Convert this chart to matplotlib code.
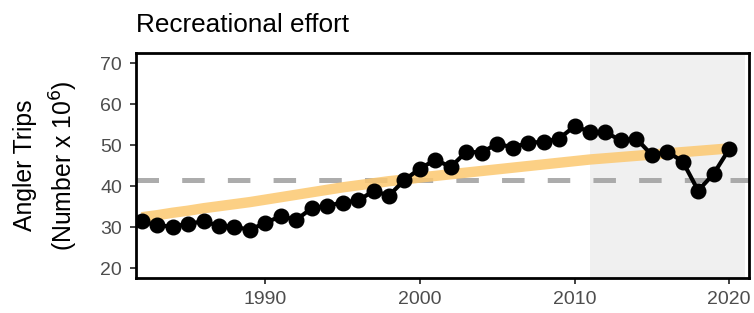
"""Recreational effort: angler trips per year with smooth trend and long-term mean."""

import matplotlib
matplotlib.use("Agg")
import matplotlib.pyplot as plt

YEARS = list(range(1982, 2021))

ANGLER_TRIPS = [
    31.4, 30.4, 30.1, 30.8, 31.4, 30.3, 30.1, 29.3, 31.1, 32.6,
    31.8, 34.6, 35.2, 36.0, 36.5, 38.8, 37.7, 41.5, 44.3, 46.4,
    44.7, 48.4, 48.2, 50.4, 49.4, 50.6, 50.8, 51.6, 54.6, 53.3,
    53.1, 51.2, 51.6, 47.6, 48.4, 46.0, 38.9, 43.0, 49.0,
]

TREND = [
    32.4, 32.9, 33.5, 34.0, 34.6, 35.1, 35.6, 36.1, 36.7, 37.3,
    37.9, 38.5, 39.1, 39.7, 40.2, 40.7, 41.2, 41.6, 42.1, 42.5,
    42.9, 43.3, 43.7, 44.1, 44.5, 44.9, 45.3, 45.7, 46.1, 46.5,
    46.8, 47.1, 47.4, 47.7, 48.0, 48.3, 48.6, 48.9, 49.2,
]

LONG_TERM_MEAN = 41.6
SHADE_START, SHADE_END = 2011, 2021

X_TICKS = [1990, 2000, 2010, 2020]
Y_TICKS = [20, 30, 40, 50, 60, 70]

plt.rcParams["font.family"] = ["Liberation Sans", "DejaVu Sans"]
plt.rcParams["lines.scale_dashes"] = False

fig = plt.figure(figsize=(7.54, 3.13), dpi=100)
ax = fig.add_axes([0.1804, 0.1109, 0.8130, 0.7198])

ax.axvspan(SHADE_START, SHADE_END, color="#F0F0F0", lw=0, zorder=0)
ax.axhline(LONG_TERM_MEAN, color="#A3A3A3", lw=3.6, dashes=(16.2, 16.7),
           alpha=0.9, zorder=1)
ax.plot(YEARS, TREND, color="#FCC870", lw=7.5, alpha=0.85,
        solid_capstyle="butt", zorder=2)
ax.plot(YEARS, ANGLER_TRIPS, color="black", lw=3.0, marker="o",
        markersize=10.5, zorder=3)

ax.set_xlim(1981.63, 2021.29)
ax.set_ylim(17.5, 72.5)
ax.set_xticks(X_TICKS)
ax.set_yticks(Y_TICKS)
ax.tick_params(axis="both", colors="#333333", labelcolor="#4D4D4D",
               labelsize=14, length=4, width=1.3)
ax.tick_params(axis="y", pad=6)
ax.tick_params(axis="x", pad=5)

for spine in ax.spines.values():
    spine.set_linewidth(2.0)
    spine.set_color("black")

ax.set_ylabel("Angler Trips\n(Number x 10$^6$)", fontsize=17.8,
              linespacing=1.45, va="center")
ax.yaxis.set_label_coords(-0.146, 0.5)
ax.set_title("Recreational effort", loc="left", fontsize=18.8, pad=15)

fig.savefig("out.png", dpi=100)
